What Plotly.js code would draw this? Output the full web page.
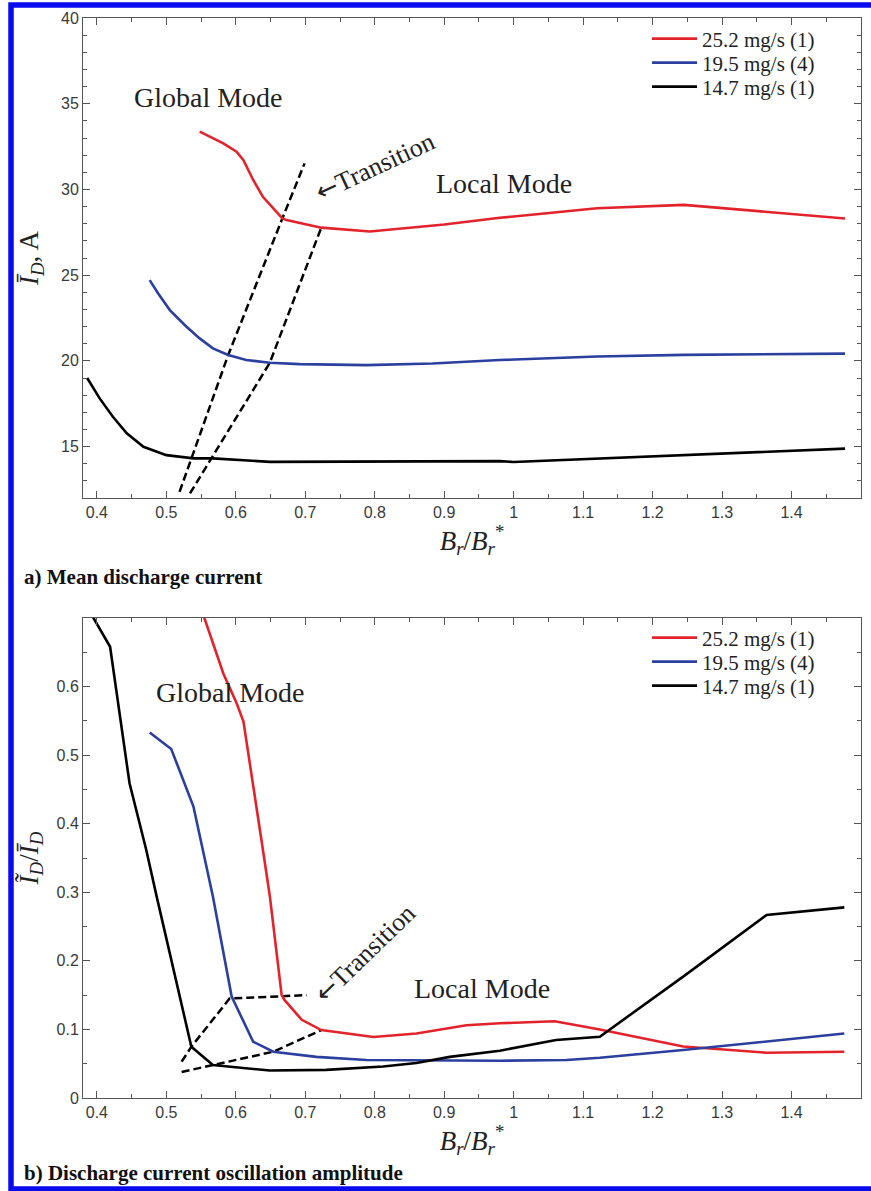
<!DOCTYPE html>
<html>
<head>
<meta charset="utf-8">
<script src="https://cdn.plot.ly/plotly-3.0.1.min.js"></script>
<style>html,body{margin:0;padding:0;background:#fff;}#chart{width:871px;height:1191px;}</style>
</head>
<body>
<div id="chart"></div>
<script>
// ---- series names ----
const seriesNames = ['25.2 mg/s (1)', '19.5 mg/s (4)', '14.7 mg/s (1)'];
const seriesColors = ['#e3232b', '#2b3f9e', '#000000'];

// ---- (a) mean discharge current ----
const aRedX = [0.548, 0.582, 0.601, 0.611, 0.625, 0.639, 0.654, 0.667, 0.673, 0.723, 0.793, 0.9, 0.98, 1.0, 1.12, 1.245, 1.477];
const aRedY = [33.37, 32.69, 32.2, 31.71, 30.55, 29.57, 28.9, 28.31, 28.21, 27.77, 27.55, 27.95, 28.35, 28.42, 28.9, 29.1, 28.3];
const aBlueX = [0.476, 0.488, 0.505, 0.529, 0.548, 0.567, 0.589, 0.615, 0.649, 0.692, 0.788, 0.883, 0.98, 1.12, 1.245, 1.477];
const aBlueY = [24.71, 23.94, 22.96, 21.99, 21.31, 20.73, 20.34, 20.05, 19.89, 19.81, 19.75, 19.85, 20.05, 20.25, 20.35, 20.42];
const aBlackX = [0.386, 0.404, 0.423, 0.443, 0.467, 0.5, 0.539, 0.567, 0.649, 0.8, 0.98, 1.0, 1.12, 1.245, 1.36, 1.477];
const aBlackY = [19.0, 17.81, 16.74, 15.77, 14.99, 14.5, 14.31, 14.31, 14.11, 14.12, 14.15, 14.1, 14.3, 14.5, 14.7, 14.88];
const aTrans1X = [0.519, 0.589, 0.667, 0.699];
const aTrans1Y = [12.36, 20.34, 28.31, 31.52];
const aTrans2X = [0.534, 0.649, 0.723];
const aTrans2Y = [12.27, 19.89, 27.77];

// ---- (b) oscillation amplitude ----
const bRedX = [0.548, 0.582, 0.601, 0.611, 0.639, 0.649, 0.666, 0.67, 0.695, 0.723, 0.798, 0.86, 0.932, 0.98, 1.059, 1.124, 1.244, 1.364, 1.476];
const bRedY = [0.72, 0.619, 0.576, 0.549, 0.362, 0.294, 0.150, 0.143, 0.114, 0.099, 0.089, 0.094, 0.106, 0.109, 0.112, 0.1, 0.075, 0.066, 0.0675];
const bBlueX = [0.476, 0.507, 0.539, 0.567, 0.594, 0.625, 0.654, 0.716, 0.788, 0.884, 0.98, 1.076, 1.124, 1.244, 1.364, 1.476];
const bBlueY = [0.533, 0.509, 0.425, 0.294, 0.148, 0.082, 0.0675, 0.060, 0.0554, 0.0544, 0.0544, 0.0554, 0.0588, 0.07, 0.082, 0.094];
const bBlackX = [0.386, 0.419, 0.447, 0.471, 0.486, 0.536, 0.567, 0.649, 0.73, 0.812, 0.86, 0.908, 0.98, 1.061, 1.124, 1.244, 1.364, 1.476];
const bBlackY = [0.716, 0.658, 0.459, 0.362, 0.294, 0.0748, 0.048, 0.040, 0.041, 0.046, 0.051, 0.060, 0.069, 0.0846, 0.0894, 0.177, 0.267, 0.278];
const bTrans1X = [0.522, 0.536, 0.591, 0.666, 0.702];
const bTrans1Y = [0.053, 0.0748, 0.145, 0.149, 0.150];
const bTrans2X = [0.522, 0.567, 0.654, 0.723];
const bTrans2Y = [0.038, 0.048, 0.0675, 0.099];

// ---- ticks ----
const xTickVals = [0.4, 0.5, 0.6, 0.7, 0.8, 0.9, 1.0, 1.1, 1.2, 1.3, 1.4, 1.5];
const xTickText = ['0.4', '0.5', '0.6', '0.7', '0.8', '0.9', '1', '1.1', '1.2', '1.3', '1.4', '1.5'];
const aYTickVals = [15, 20, 25, 30, 35, 40];
const aYTickText = ['15', '20', '25', '30', '35', '40'];
const bYTickVals = [0, 0.1, 0.2, 0.3, 0.4, 0.5, 0.6];
const bYTickText = ['0', '0.1', '0.2', '0.3', '0.4', '0.5', '0.6'];

// ---- texts ----
const captionA = 'a) Mean discharge current';
const captionB = 'b) Discharge current oscillation amplitude';
const serif = 'Liberation Serif, Times New Roman, serif';
const sans = 'Liberation Sans, Arial, sans-serif';
const arrow = '<span style="font-family:DejaVu Sans">\u2190</span>';

const W = 871, H = 1191;
const px = v => v / W;
const py = v => 1 - v / H;

function line(x, y, color, name, xa, ya, legend) {
  return {x: x, y: y, type: 'scatter', mode: 'lines', name: name,
    xaxis: xa, yaxis: ya, legend: legend, showlegend: true,
    line: {color: color, width: 2.6}, hoverinfo: 'skip'};
}
function dashed(x, y, xa, ya) {
  return {x: x, y: y, type: 'scatter', mode: 'lines', xaxis: xa, yaxis: ya,
    showlegend: false, line: {color: '#000', width: 2.5, dash: '8px,4px'}, hoverinfo: 'skip'};
}

const data = [
  dashed(aTrans1X, aTrans1Y, 'x', 'y'),
  dashed(aTrans2X, aTrans2Y, 'x', 'y'),
  line(aRedX, aRedY, seriesColors[0], seriesNames[0], 'x', 'y', 'legend'),
  line(aBlueX, aBlueY, seriesColors[1], seriesNames[1], 'x', 'y', 'legend2'),
  line(aBlackX, aBlackY, seriesColors[2], seriesNames[2], 'x', 'y', 'legend3'),
  dashed(bTrans1X, bTrans1Y, 'x2', 'y2'),
  dashed(bTrans2X, bTrans2Y, 'x2', 'y2'),
  line(bRedX, bRedY, seriesColors[0], seriesNames[0], 'x2', 'y2', 'legend4'),
  line(bBlueX, bBlueY, seriesColors[1], seriesNames[1], 'x2', 'y2', 'legend5'),
  line(bBlackX, bBlackY, seriesColors[2], seriesNames[2], 'x2', 'y2', 'legend6')
];

const axisCommon = {
  showgrid: false, zeroline: false, showline: true, linecolor: '#555', linewidth: 1,
  mirror: 'ticks', ticks: 'inside', ticklen: 7, tickcolor: '#555', tickwidth: 1,
  tickfont: {family: sans, size: 16, color: '#3a3a3a'},
  tickmode: 'array'
};
const xTitle = '<i>B</i><sub><i>r</i></sub>/<i>B</i><sub><i>r</i></sub><sup>*</sup>';

function legendAt(yPix) {
  return {x: px(647), xanchor: 'left', y: py(yPix), yanchor: 'middle',
    bgcolor: 'rgba(0,0,0,0)', borderwidth: 0, itemwidth: 45,
    font: {family: serif, size: 21, color: '#222'}};
}

const layout = {
  width: W, height: H,
  margin: {l: 0, r: 0, t: 0, b: 0},
  paper_bgcolor: '#fff', plot_bgcolor: '#fff',
  showlegend: true,
  xaxis: Object.assign({}, axisCommon, {
    domain: [px(83), px(861)], range: [0.38, 1.5], anchor: 'y',
    tickvals: xTickVals, ticktext: xTickText,
    minor: {dtick: 0.05, tick0: 0.4, ticks: 'inside', ticklen: 4, tickcolor: '#555'},
    title: {text: xTitle, font: {family: serif, size: 27, color: '#222'}, standoff: 7}
  }),
  yaxis: Object.assign({}, axisCommon, {
    domain: [py(498), py(18)], range: [12, 40], anchor: 'x',
    tickvals: aYTickVals, ticktext: aYTickText,
    minor: {dtick: 1, tick0: 0, ticks: 'inside', ticklen: 4, tickcolor: '#555'},
    title: {text: '<i>I\u0304</i><sub><i>D</i></sub>, A', font: {family: serif, size: 27, color: '#222'}, standoff: 14}
  }),
  xaxis2: Object.assign({}, axisCommon, {
    domain: [px(83), px(861)], range: [0.38, 1.5], anchor: 'y2',
    tickvals: xTickVals, ticktext: xTickText,
    minor: {dtick: 0.05, tick0: 0.4, ticks: 'inside', ticklen: 4, tickcolor: '#555'},
    title: {text: xTitle, font: {family: serif, size: 27, color: '#222'}, standoff: 7}
  }),
  yaxis2: Object.assign({}, axisCommon, {
    domain: [py(1098), py(618)], range: [0, 0.7], anchor: 'x2',
    tickvals: bYTickVals, ticktext: bYTickText,
    minor: {dtick: 0.05, tick0: 0, ticks: 'inside', ticklen: 4, tickcolor: '#555'},
    title: {text: '<i>I\u0303</i><sub><i>D</i></sub>/<i>I\u0304</i><sub><i>D</i></sub>', font: {family: serif, size: 27, color: '#222'}, standoff: 10}
  }),
  legend: legendAt(39), legend2: legendAt(63), legend3: legendAt(87),
  legend4: legendAt(638), legend5: legendAt(662), legend6: legendAt(686),
  annotations: [
    {xref: 'x', yref: 'y', x: 0.561, y: 35.39, text: 'Global Mode', showarrow: false,
     font: {family: serif, size: 28, color: '#222'}},
    {xref: 'x', yref: 'y', x: 0.986, y: 30.37, text: 'Local Mode', showarrow: false,
     font: {family: serif, size: 28, color: '#222'}},
    {xref: 'x', yref: 'y', x: 0.801, y: 31.37, text: arrow + 'Transition', showarrow: false, textangle: -25,
     font: {family: serif, size: 26, color: '#222'}},
    {xref: 'x2', yref: 'y2', x: 0.593, y: 0.592, text: 'Global Mode', showarrow: false,
     font: {family: serif, size: 28, color: '#222'}},
    {xref: 'x2', yref: 'y2', x: 0.955, y: 0.160, text: 'Local Mode', showarrow: false,
     font: {family: serif, size: 28, color: '#222'}},
    {xref: 'x2', yref: 'y2', x: 0.786, y: 0.211, text: arrow + 'Transition', showarrow: false, textangle: -44,
     font: {family: serif, size: 26, color: '#222'}},
    {xref: 'paper', yref: 'paper', x: px(22), y: py(577), xanchor: 'left', yanchor: 'middle',
     text: '<b>' + captionA + '</b>', showarrow: false, font: {family: serif, size: 21, color: '#111'}},
    {xref: 'paper', yref: 'paper', x: px(22), y: py(1173), xanchor: 'left', yanchor: 'middle',
     text: '<b>' + captionB + '</b>', showarrow: false, font: {family: serif, size: 21, color: '#111'}}
  ],
  shapes: [
    {type: 'rect', xref: 'paper', yref: 'paper', x0: px(11), x1: px(890), y0: py(1189), y1: py(5),
     line: {color: '#0a0af0', width: 5.5}, fillcolor: 'rgba(0,0,0,0)', layer: 'above'}
  ]
};

Plotly.newPlot('chart', data, layout, {staticPlot: true, displayModeBar: false}).then(function (gd) {
  // drop empty placeholder text nodes that Plotly leaves behind
  gd.querySelectorAll('text').forEach(function (t) {
    if (!t.textContent || !t.textContent.trim()) t.parentNode.removeChild(t);
  });
});
</script>
</body>
</html>
